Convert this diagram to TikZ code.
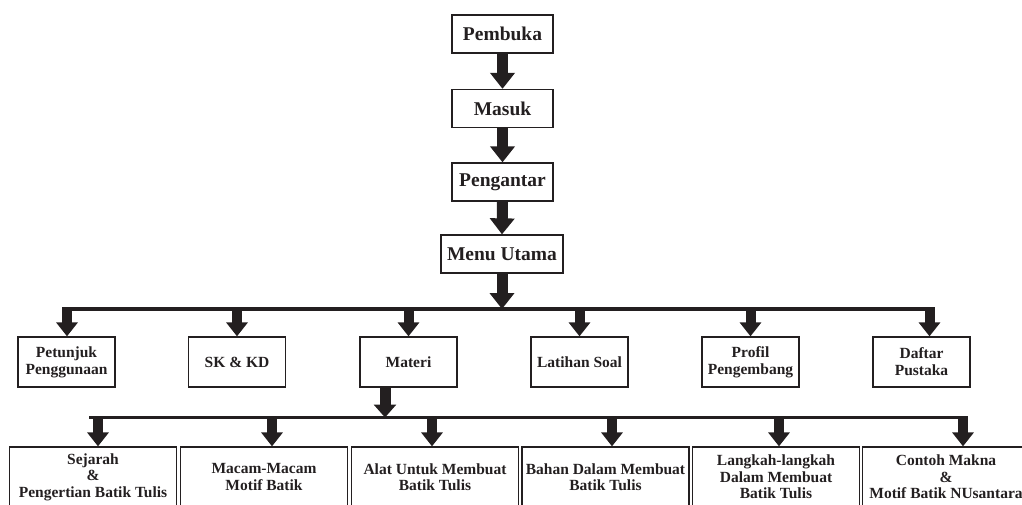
\documentclass[tikz,border=0pt]{standalone}
\usepackage{fontspec}
\setmainfont{Liberation Serif}
\usetikzlibrary{arrows.meta}
\definecolor{ink}{RGB}{35,31,32}
\tikzset{
  boxbase/.style={draw=ink, line width=1.3pt, inner sep=0pt, align=center, text=ink},
  topbox/.style={boxbase, minimum width=101pt, minimum height=38pt, font=\fontsize{19.5}{21}\selectfont\bfseries},
  midbox/.style={boxbase, minimum width=97pt, minimum height=50pt, font=\fontsize{15.5}{17}\selectfont\bfseries},
  lowbox/.style={boxbase, minimum width=167pt, minimum height=60pt, font=\fontsize{15.5}{16.5}\selectfont\bfseries},
  bigarrow/.style={draw=ink, line width=11pt, -{Triangle[width=24pt,length=16pt]}},
  midarrow/.style={draw=ink, line width=10pt, -{Triangle[width=21pt,length=14pt]}},
  busline/.style={draw=ink, line width=3.5pt}
}
\begin{document}
\begin{tikzpicture}[x=1pt,y=-1pt]
\useasboundingbox (0,0) rectangle (1022,504);
% top chain
\node[topbox] (pembuka) at (502.5,34) {Pembuka};
\node[topbox] (masuk) at (502.5,108.5) {Masuk};
\node[topbox] (pengantar) at (502.5,182) {Pengantar};
\node[topbox, minimum width=122pt] (menu) at (502,254) {Menu Utama};
\draw[bigarrow] (pembuka.south) -- (masuk.north);
\draw[bigarrow] (masuk.south) -- (pengantar.north);
\draw[bigarrow] (pengantar.south) -- (menu.north);
% level 1
\coordinate (b1l) at (62,309);
\coordinate (b1r) at (935,309);
\draw[busline] (b1l) -- (b1r);
\draw[bigarrow] (menu.south) -- (menu.south |- b1l);
\node[midbox] (petunjuk) at (66.5,362) {Petunjuk\\Penggunaan};
\node[midbox] (skkd) at (237,362) {SK \& KD};
\node[midbox] (materi) at (408.5,362) {Materi};
\node[midbox] (latihan) at (579.5,362) {Latihan Soal};
\node[midbox] (profil) at (750.5,362) {Profil\\Pengembang};
\node[midbox] (daftar) at (921.5,362) {Daftar\\Pustaka};
\foreach \n/\s in {petunjuk/0.5, skkd/0, materi/0, latihan/0, profil/0, daftar/8}{
  \draw[midarrow] ([xshift=\s pt]\n.north |- b1l) -- ([xshift=\s pt]\n.north);
}
% level 2
\coordinate (b2l) at (89,417.5);
\coordinate (b2r) at (968,417.5);
\draw[busline] (b2l) -- (b2r);
\draw[draw=ink, line width=11pt, -{Triangle[width=22pt,length=13pt]}] ([xshift=-23.5pt]materi.south) -- ([xshift=-23.5pt]materi.south |- b2l);
\node[lowbox] (sejarah) at (93,477) {Sejarah\\\&\\Pengertian Batik Tulis};
\node[lowbox] (macam) at (264,477) {Macam-Macam\\Motif Batik};
\node[lowbox] (alat) at (435,477) {Alat Untuk Membuat\\Batik Tulis};
\node[lowbox] (bahan) at (605.5,477) {Bahan Dalam Membuat\\Batik Tulis};
\node[lowbox] (langkah) at (776,477) {Langkah-langkah\\Dalam Membuat\\Batik Tulis};
\node[lowbox] (contoh) at (946,477) {Contoh Makna\\\&\\Motif Batik NUsantara};
\foreach \n/\s in {sejarah/5, macam/8, alat/-3, bahan/6.5, langkah/3, contoh/17}{
  \draw[midarrow] ([xshift=\s pt]\n.north |- b2l) -- ([xshift=\s pt]\n.north);
}
\end{tikzpicture}
\end{document}
